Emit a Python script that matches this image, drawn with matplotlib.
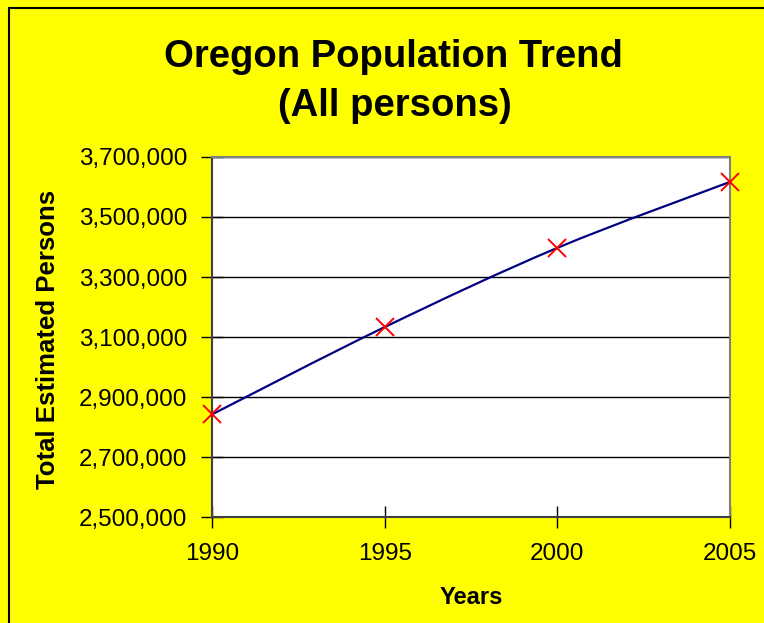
import numpy as np
import matplotlib.pyplot as plt
from matplotlib.path import Path
from matplotlib.patches import PathPatch, Rectangle
from matplotlib.ticker import FuncFormatter

plt.rcParams['font.family'] = ['Liberation Sans', 'DejaVu Sans']

years = [1990, 1995, 2000, 2005]
population = [2842000, 3133000, 3397000, 3617000]

W, H = 764, 623
fig = plt.figure(figsize=(W / 100, H / 100), dpi=100)
fig.patch.set_facecolor('#FFFF00')

# outer frame (cropped on the right and bottom)
fig.patches.append(Rectangle((9 / W, -0.1), 1.2, 1 - 8 / H + 0.1, transform=fig.transFigure,
                             fill=False, edgecolor='black', linewidth=1.5))

ax = fig.add_axes([212 / W, 1 - 517 / H, (730 - 212) / W, (517 - 157) / H])
ax.set_facecolor('white')

# smoothed line like a spreadsheet chart: bezier through the points
x = np.array(years, dtype=float)
y = np.array(population, dtype=float)
verts = [(x[0], y[0])]
codes = [Path.MOVETO]
for i in range(len(x) - 1):
    p0 = (x[max(i - 1, 0)], y[max(i - 1, 0)])
    p1 = (x[i], y[i])
    p2 = (x[i + 1], y[i + 1])
    p3 = (x[min(i + 2, len(x) - 1)], y[min(i + 2, len(x) - 1)])
    c1 = (p1[0] + (p2[0] - p0[0]) / 6, p1[1] + (p2[1] - p0[1]) / 6)
    c2 = (p2[0] - (p3[0] - p1[0]) / 6, p2[1] - (p3[1] - p1[1]) / 6)
    verts += [c1, c2, p2]
    codes += [Path.CURVE4] * 3
ax.add_patch(PathPatch(Path(verts, codes), facecolor='none', edgecolor='#000080', linewidth=1.6, zorder=3))
ax.plot(years, population, linestyle='none', marker='x', color='red', markersize=13,
        markeredgewidth=1.4, zorder=4, clip_on=False)

ax.set_xlim(1990, 2005)
ax.set_ylim(2500000, 3700000)
ax.set_xticks(years)
ax.set_yticks(np.arange(2500000, 3700001, 200000))
ax.yaxis.set_major_formatter(FuncFormatter(lambda v, p: f'{int(v):,}'))
ax.yaxis.grid(True, color='black', linewidth=1)
ax.set_axisbelow(True)
ax.tick_params(direction='inout', length=16, width=1, color='black')
ax.tick_params(axis='x', pad=11, labelsize=17.5)
ax.tick_params(axis='y', pad=10, labelsize=17.5)

for s in ['top', 'right']:
    ax.spines[s].set_color('#808080')
    ax.spines[s].set_linewidth(1.5)
for s in ['left', 'bottom']:
    ax.spines[s].set_color('#404040')
    ax.spines[s].set_linewidth(1.5)

fig.text(471 / W, 1 - 597 / H, 'Years', ha='center', va='center', fontsize=17,
         fontweight='bold')
fig.text(48 / W, 1 - 339 / H, 'Total Estimated Persons', ha='center', va='center',
         rotation=90, fontsize=18.5, fontweight='bold')

fig.text(393 / W, 1 - 57 / H, 'Oregon Population Trend', ha='center', va='center',
         fontsize=27.5, fontweight='bold')
fig.text(395 / W, 1 - 106 / H, '(All persons)', ha='center', va='center',
         fontsize=27.5, fontweight='bold')

fig.savefig('out.png', dpi=100, facecolor=fig.get_facecolor())
